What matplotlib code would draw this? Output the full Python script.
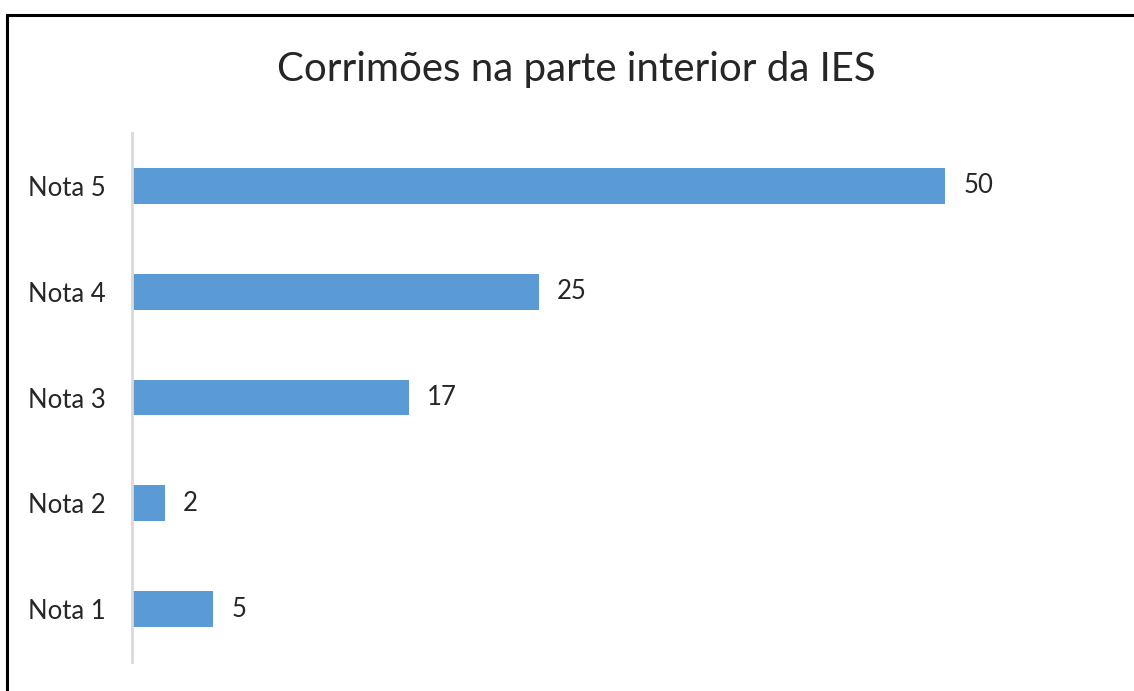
import matplotlib
matplotlib.use("Agg")
import matplotlib.pyplot as plt
from matplotlib.patches import Rectangle

categories = ["Nota 1", "Nota 2", "Nota 3", "Nota 4", "Nota 5"]
values = [5, 2, 17, 25, 50]
title = "Corrimões na parte interior da IES"

plt.rcParams['font.family'] = ['Lato', 'DejaVu Sans']

W, H = 1134, 691
fig = plt.figure(figsize=(W / 100, H / 100), dpi=100)
fig.patch.set_facecolor("white")

# frame border (left and top visible)
fig.patches.append(Rectangle((7 / W, -0.1), 1.2, 1 - 14.5 / H + 0.1,
                             transform=fig.transFigure, fill=False,
                             edgecolor="black", linewidth=2.2))

ax = fig.add_axes([132 / W, 1 - 662 / H, (1108 - 132) / W, (662 - 133) / H])
ys = list(range(len(categories)))
ax.barh(ys, values, height=0.34, color="#5B9BD5")
ax.set_xlim(0, 60)
ax.set_ylim(-0.5, len(categories) - 0.5)
ax.set_yticks(ys)
ax.set_yticklabels(categories, fontsize=18.5, color="#262626")
ax.tick_params(axis="y", length=0, pad=19)
ax.set_xticks([])
for s in ["top", "right", "bottom"]:
    ax.spines[s].set_visible(False)
ax.spines["left"].set_color("#D9D9D9")
ax.spines["left"].set_linewidth(2)
ax.patch.set_alpha(0)

for y, v in zip(ys, values):
    ax.annotate(str(v), (v, y), xytext=(13, 0), textcoords="offset points",
                va="center", ha="left", fontsize=18.5, color="#262626")

fig.text(576 / W, 1 - 70 / H, title, ha="center", va="center",
         fontsize=29, color="#262626")

fig.savefig("out.png", dpi=100)
